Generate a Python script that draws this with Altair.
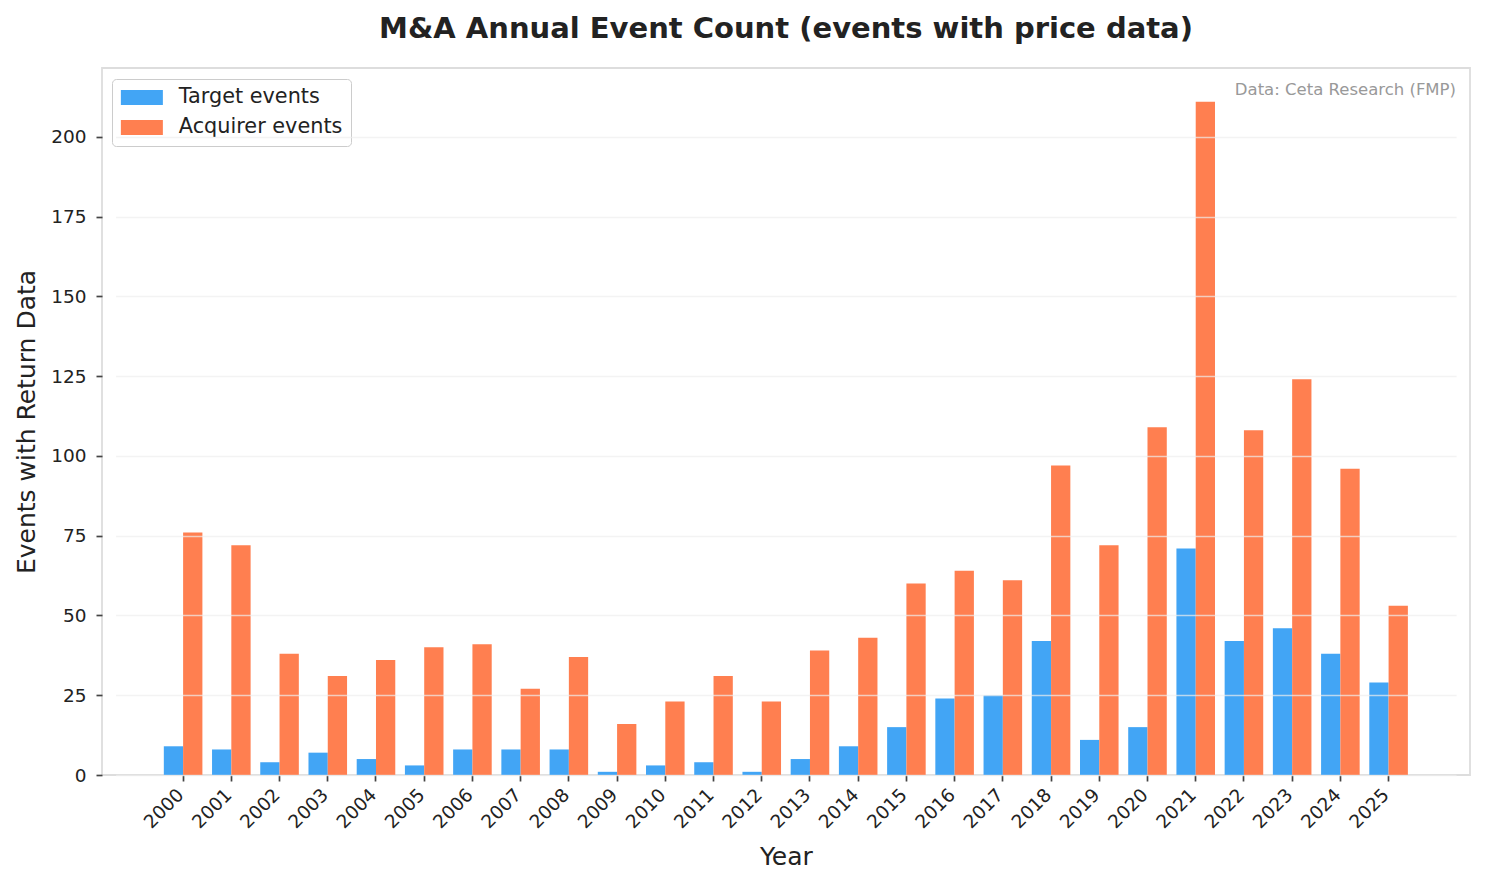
import altair as alt
import pandas as pd

years = [str(y) for y in range(2000, 2026)]
target = [9, 8, 4, 7, 5, 3, 8, 8, 8, 1, 3, 4, 1, 5, 9, 15, 24, 25, 42, 11, 15, 71, 42, 46, 38, 29]
acquirer = [76, 72, 38, 31, 36, 40, 41, 27, 37, 16, 23, 31, 23, 39, 43, 60, 64, 61, 97, 72, 109, 211, 108, 124, 96, 53]
series = ["Target events", "Acquirer events"]
colors = ["#42A5F5", "#FF7F50"]

rows = []
for i, y in enumerate(years):
    rows.append({"Year": y, "Series": series[0], "Count": target[i]})
    rows.append({"Year": y, "Series": series[1], "Count": acquirer[i]})
df = pd.DataFrame(rows)

FONT = "DejaVu Sans"

bars = alt.Chart(df).mark_bar(opacity=1).encode(
    x=alt.X("Year:N", sort=years,
            scale=alt.Scale(paddingInner=0.2, paddingOuter=1, range=[13.6, 1354.1]),
            axis=alt.Axis(title="Year", labelAngle=315, labelAlign="right", labelBaseline="top",
                          labelFontSize=18.5, labelColor="#222222", tickColor="#444444",
                          tickSize=6, tickWidth=1.7, domain=False, grid=False,
                          labelOffset=-9,
                          titleFontSize=25, titleFontWeight="normal", titleColor="#222222",
                          titlePadding=13, labelPadding=4)),
    xOffset=alt.XOffset("Series:N", sort=series),
    y=alt.Y("Count:Q", scale=alt.Scale(domain=[0, 221.55], nice=False),
            axis=alt.Axis(title="Events with Return Data", values=list(range(0, 201, 25)),
                          labelFontSize=18.5, labelColor="#222222", tickColor="#444444",
                          tickSize=6, tickWidth=1.7, domain=False, grid=True,
                          gridColor="#eeeeee", gridOpacity=0.7, gridWidth=1.5, zindex=1,
                          titleFontSize=25, titleFontWeight="normal", titleColor="#222222",
                          titlePadding=11, labelPadding=10)),
    color=alt.Color("Series:N", sort=series,
                    scale=alt.Scale(domain=series, range=colors),
                    legend=alt.Legend(title=None, orient="none", legendX=10, legendY=11,
                                      symbolType="M-1.27,-1 L4.33,-1 L4.33,1 L-1.27,1 Z",
                                      symbolSize=225, symbolStrokeWidth=0, symbolOpacity=1,
                                      labelFontSize=20.8, labelColor="#222222", labelLimit=400,
                                      labelOffset=38, rowPadding=8,
                                      padding=8, strokeColor="#cccccc", fillColor="white",
                                      cornerRadius=4)),
)

note = alt.Chart(pd.DataFrame({"t": ["Data: Ceta Research (FMP)"]})).mark_text(
    align="right", baseline="middle", fontSize=16.5, color="#999999", font=FONT
).encode(x=alt.value(1354), y=alt.value(22), text="t:N")

chart = alt.layer(bars, note).properties(
    width=1368, height=707,
    title=alt.TitleParams("M&A Annual Event Count (events with price data)",
                          fontSize=29, fontWeight="bold", color="#222222", offset=24, font=FONT),
    autosize=alt.AutoSizeParams(type="none"),
    padding={"left": 94, "top": 60, "right": 7, "bottom": 100},
).configure(font=FONT).configure_view(stroke="#dddddd", strokeWidth=1.8)

chart.save("out.html", embed_options={"renderer": "svg", "actions": False})
